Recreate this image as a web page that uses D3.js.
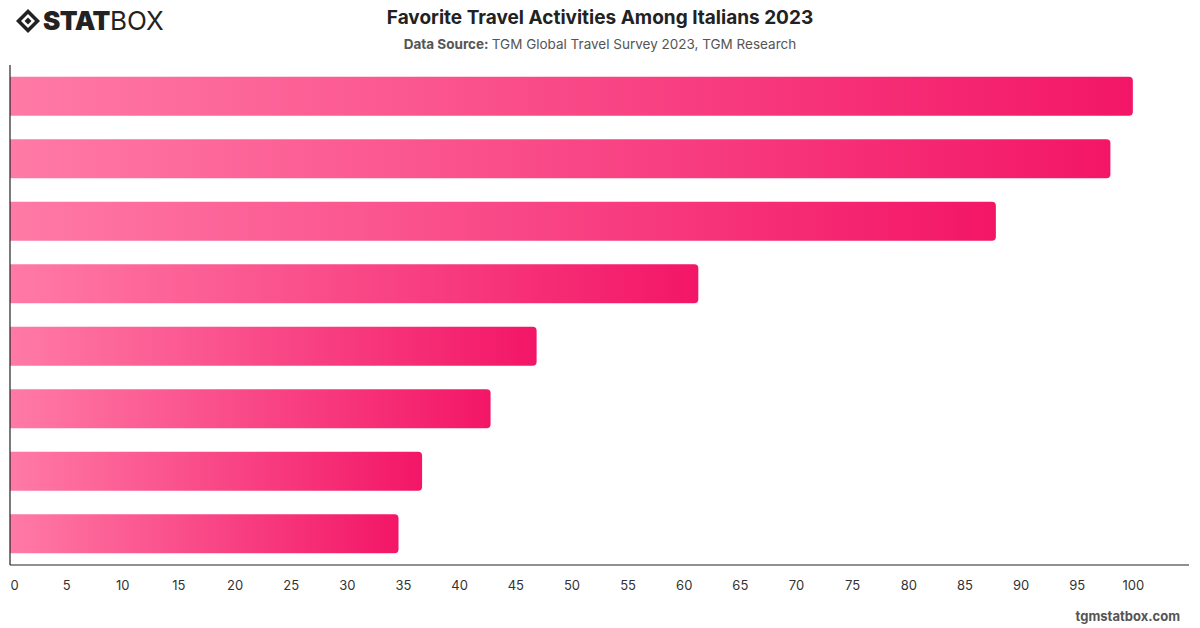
<html>
    <head>
        <style>
            body { margin: 0; background: #fff; }
            svg text { font-family: "Inter", "Roboto", "Liberation Sans", sans-serif; }
        </style>
        <script src="https://cdnjs.cloudflare.com/ajax/libs/d3/7.8.5/d3.min.js"></script>
    </head>
    <body>
        <script>
            // category names are not printed on the reference, only the bars
            const categories = ['A1', 'A2', 'A3', 'A4', 'A5', 'A6', 'A7', 'A8'];
            const values = [100, 98, 87.8, 61.3, 46.9, 42.8, 36.7, 34.6];
            const ticks = [0, 5, 10, 15, 20, 25, 30, 35, 40, 45, 50, 55, 60, 65, 70, 75, 80, 85, 90, 95, 100];

            const width = 1200;
            const height = 628;
            const plot = { left: 10, right: 1189, top: 65, bottom: 565 };

            const svg = d3.select('body').append('svg')
                .attr('width', width)
                .attr('height', height);

            const defs = svg.append('defs');
            const grad = defs.append('linearGradient')
                .attr('id', 'barGrad')
                .attr('x1', '0').attr('x2', '1').attr('y1', '0').attr('y2', '0');
            grad.append('stop').attr('offset', '0%').attr('stop-color', '#ff7aa6');
            grad.append('stop').attr('offset', '100%').attr('stop-color', '#f31667');

            const x = d3.scaleLinear().domain([0, 105]).range([plot.left, plot.right]);
            const y = d3.scaleBand().domain(categories).range([plot.top, plot.bottom])
                .paddingInner(0.376).paddingOuter(0.188);

            // bars: flat on the left, rounded on the right
            svg.append('g').selectAll('path')
                .data(values)
                .enter().append('path')
                .attr('fill', 'url(#barGrad)')
                .attr('d', (d, i) => {
                    const x0 = x(0), x1 = x(d), y0 = y(categories[i]), h = y.bandwidth(), r = 4;
                    return `M${x0},${y0}H${x1 - r}Q${x1},${y0} ${x1},${y0 + r}V${y0 + h - r}Q${x1},${y0 + h} ${x1 - r},${y0 + h}H${x0}Z`;
                });

            // axes
            const xAxis = svg.append('g')
                .attr('transform', `translate(0, ${plot.bottom})`)
                .call(d3.axisBottom(x).tickValues(ticks).tickSize(0).tickPadding(16));
            xAxis.select('.domain').attr('stroke', '#222').attr('stroke-width', 1.2)
                .attr('d', `M${plot.left},0H${plot.right}`);
            xAxis.selectAll('text')
                .attr('font-size', 13)
                .attr('fill', '#333')
                .attr('font-family', '"Inter", "Roboto", sans-serif')
                .attr('dx', (d) => d === 0 ? 4 : 0);

            svg.append('line')
                .attr('x1', plot.left).attr('x2', plot.left)
                .attr('y1', plot.top).attr('y2', plot.bottom)
                .attr('stroke', '#222').attr('stroke-width', 1.2);

            // title block
            svg.append('text')
                .attr('x', 600).attr('y', 24)
                .attr('text-anchor', 'middle')
                .attr('font-size', 19)
                .attr('font-weight', 700)
                .attr('fill', '#222')
                .text('Favorite Travel Activities Among Italians 2023');

            const sub = svg.append('text')
                .attr('x', 600).attr('y', 49)
                .attr('text-anchor', 'middle')
                .attr('font-size', 13.5)
                .attr('fill', '#555');
            sub.append('tspan').attr('font-weight', 700).text('Data Source: ');
            sub.append('tspan').text('TGM Global Travel Survey 2023, TGM Research');

            // footer
            svg.append('text')
                .attr('x', 1180).attr('y', 621)
                .attr('text-anchor', 'end')
                .attr('font-size', 13)
                .attr('font-weight', 700)
                .attr('fill', '#555')
                .text('tgmstatbox.com');

            // logo
            const logo = svg.append('g').attr('transform', 'translate(16, 21)');
            logo.append('path')
                .attr('d', 'M0,0L12,-12L24,0L12,12Z')
                .attr('fill', '#222');
            logo.append('path')
                .attr('d', 'M5,0L12,-7L19,0L12,7Z')
                .attr('fill', '#fff');
            logo.append('path')
                .attr('d', 'M8.5,0L12,-3.5L15.5,0L12,3.5Z')
                .attr('fill', '#222');
            const logoText = logo.append('text')
                .attr('x', 27).attr('y', 9)
                .attr('font-size', 26)
                .attr('fill', '#222')
                .attr('font-family', '"Liberation Sans", "DejaVu Sans", sans-serif');
            logoText.append('tspan').attr('font-weight', 900).attr('letter-spacing', -0.5).text('STAT');
            logoText.append('tspan').attr('font-weight', 400).text('BOX');
        </script>
    </body>
</html>
